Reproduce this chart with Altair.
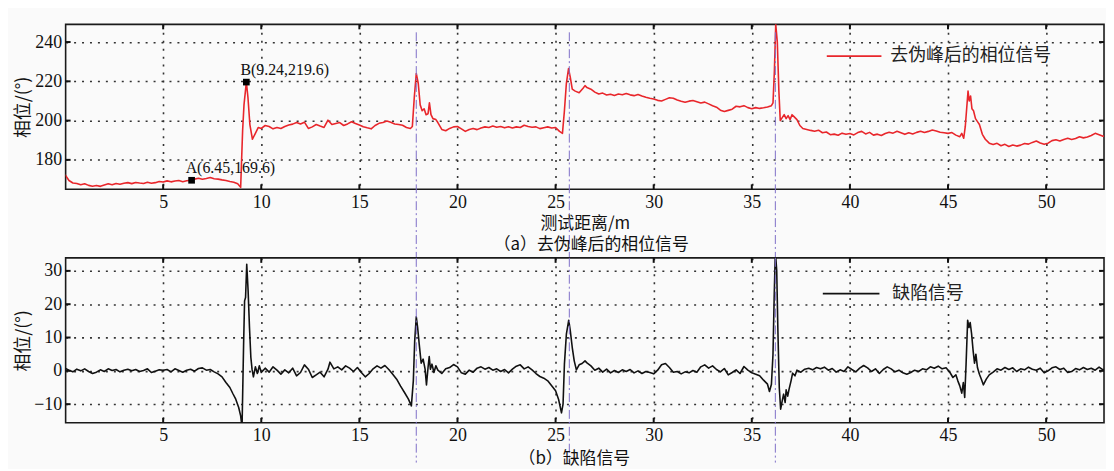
import altair as alt
import pandas as pd

# ---------------- data ----------------
TOP_X = [0.0, 0.2, 0.4, 0.6, 0.8, 1.0, 1.2, 1.4, 1.6, 1.8, 2.0, 2.2, 2.4, 2.6, 2.8, 3.0, 3.2, 3.4, 3.6, 3.8,
         4.0, 4.2, 4.4, 4.6, 4.8, 5.0, 5.2, 5.4, 5.6, 5.8, 6.0, 6.2, 6.45, 6.6, 6.8, 7.0, 7.2, 7.4, 7.6, 7.8,
         8.0, 8.2, 8.4, 8.6, 8.8, 8.95, 9.05, 9.12, 9.24, 9.32, 9.42, 9.55, 9.7, 9.85, 10.0, 10.2, 10.4, 10.6,
         10.8, 11.0, 11.2, 11.4, 11.6, 11.8, 12.0, 12.2, 12.4, 12.6, 12.8, 13.0, 13.2, 13.4, 13.6, 13.8, 14.0,
         14.2, 14.4, 14.6, 14.8, 15.0, 15.2, 15.4, 15.6, 15.8, 16.0, 16.2, 16.4, 16.6, 16.8, 17.0, 17.2, 17.4,
         17.6, 17.7, 17.8, 17.9, 18.0, 18.1, 18.2, 18.3, 18.4, 18.5, 18.57, 18.65, 18.75, 18.9, 19.0, 19.2,
         19.4, 19.6, 19.8, 20.0, 20.2, 20.4, 20.6, 20.8, 21.0, 21.2, 21.4, 21.6, 21.8, 22.0, 22.2, 22.4, 22.6,
         22.8, 23.0, 23.2, 23.4, 23.6, 23.8, 24.0, 24.2, 24.4, 24.6, 24.8, 25.0, 25.2, 25.35, 25.45, 25.55,
         25.66, 25.75, 25.85, 26.0, 26.2, 26.4, 26.5, 26.6, 26.8, 27.0, 27.2, 27.4, 27.6, 27.8, 28.0, 28.2,
         28.4, 28.6, 28.8, 29.0, 29.2, 29.4, 29.6, 29.8, 30.0, 30.2, 30.4, 30.6, 30.8, 31.0, 31.2, 31.4, 31.6,
         31.8, 32.0, 32.2, 32.4, 32.6, 32.8, 33.0, 33.2, 33.4, 33.6, 33.8, 34.0, 34.2, 34.4, 34.6, 34.8, 35.0,
         35.2, 35.4, 35.6, 35.8, 36.0, 36.08, 36.15, 36.22, 36.3, 36.38, 36.45, 36.55, 36.65, 36.75, 36.85,
         36.95, 37.05, 37.15, 37.3, 37.45, 37.6, 37.8, 38.0, 38.2, 38.4, 38.6, 38.8, 39.0, 39.2, 39.4, 39.6,
         39.8, 40.0, 40.2, 40.4, 40.6, 40.8, 41.0, 41.2, 41.4, 41.6, 41.8, 42.0, 42.2, 42.4, 42.6, 42.8, 43.0,
         43.2, 43.4, 43.6, 43.8, 44.0, 44.2, 44.4, 44.6, 44.8, 45.0, 45.2, 45.4, 45.6, 45.7, 45.8, 45.88,
         45.95, 46.02, 46.08, 46.15, 46.22, 46.3, 46.4, 46.5, 46.6, 46.75, 46.9, 47.1, 47.3, 47.5, 47.7, 47.9,
         48.1, 48.3, 48.5, 48.7, 48.9, 49.1, 49.3, 49.5, 49.7, 49.9, 50.1, 50.3, 50.5, 50.7, 50.9, 51.1, 51.3,
         51.5, 51.7, 51.9, 52.1, 52.3, 52.5, 52.7, 52.9, 53.0]
TOP_Y = [172.5, 169.5, 168.2, 168.0, 167.3, 167.8, 167.0, 166.6, 166.9, 166.5, 167.2, 167.8, 167.3, 168.0,
         167.6, 168.1, 168.4, 167.9, 168.5, 168.2, 168.0, 168.6, 168.1, 168.4, 169.0, 168.7, 169.3, 168.8,
         169.2, 169.5, 168.9, 169.4, 169.6, 170.2, 170.6, 170.1, 170.5, 171.0, 170.4, 170.2, 169.8, 169.5,
         169.0, 168.6, 167.8, 166.0, 195.0, 208.0, 219.6, 212.0, 198.0, 190.5, 193.5, 196.5, 196.0, 197.5,
         197.0, 195.8, 196.5, 196.0, 197.0, 197.8, 198.2, 199.0, 198.3, 199.2, 196.0, 196.8, 198.0, 197.2,
         196.5, 200.2, 198.0, 198.5, 199.0, 197.5, 198.3, 199.4, 198.5, 197.8, 196.9, 196.3, 195.8, 197.5,
         198.6, 199.0, 199.8, 199.2, 198.3, 198.0, 197.6, 196.5, 196.0, 197.0, 212.0, 224.0, 219.0, 208.0,
         205.0, 206.0, 203.0, 203.5, 209.0, 203.0, 201.0, 200.5, 199.0, 195.5, 194.8, 196.0, 196.8, 197.0,
         195.8, 194.5, 195.5, 196.0, 195.4, 196.2, 196.8, 196.5, 197.2, 196.6, 197.0, 196.3, 196.9, 196.2,
         196.8, 196.5, 197.6, 197.0, 196.6, 196.8, 195.9, 196.4, 196.8, 196.2, 196.5, 194.5, 193.5, 205.0,
         219.0, 226.5, 222.0, 216.0, 215.0, 214.2, 216.5, 217.8, 216.8, 216.0, 214.5, 213.5, 214.0, 213.0,
         213.4, 212.8, 213.5, 213.2, 213.8, 213.1, 212.7, 213.3, 212.5, 211.9, 211.4, 211.0, 210.3, 210.0,
         210.8, 211.6, 211.4, 210.5, 209.8, 209.3, 209.9, 210.2, 209.6, 209.0, 209.4, 208.5, 207.6, 206.8,
         205.3, 204.6, 205.2, 205.8, 207.3, 207.0, 207.6, 206.6, 206.0, 206.6, 206.2, 206.5, 206.9, 207.6,
         209.0, 225.0, 249.0, 240.0, 215.0, 200.0, 201.5, 203.0, 201.0, 202.5, 200.5, 203.0, 202.0, 200.5,
         197.5, 196.0, 195.5, 195.0, 194.6, 195.1, 193.8, 194.2, 192.8, 193.1, 192.5, 193.6, 193.0, 193.4,
         192.7, 193.9, 194.5, 193.2, 194.0, 192.6, 193.1, 192.4, 193.4, 194.1, 193.6, 194.6, 193.8, 193.0,
         193.8, 193.2, 194.0, 194.6, 193.9, 194.5, 195.2, 194.7, 194.1, 193.8, 193.5, 193.9, 192.6, 191.8,
         193.5, 191.0, 197.0, 206.0, 215.0, 210.0, 212.5, 206.0, 205.0, 201.0, 199.5, 198.0, 193.0, 190.5,
         188.5, 187.8, 188.4, 187.2, 187.9, 186.8, 187.6, 187.0, 187.5, 188.3, 188.0, 188.9, 189.6, 188.6,
         187.9, 188.5, 189.8, 190.2, 189.6, 190.4, 191.0, 190.4, 190.9, 191.8, 191.2, 191.6, 192.4, 193.5,
         192.8, 192.0, 192.3]

BOT_X = [0.0, 0.2, 0.4, 0.6, 0.8, 1.0, 1.2, 1.4, 1.6, 1.8, 2.0, 2.2, 2.4, 2.6, 2.8, 3.0, 3.2, 3.4, 3.6, 3.8,
         4.0, 4.2, 4.4, 4.6, 4.8, 5.0, 5.2, 5.4, 5.6, 5.8, 6.0, 6.2, 6.4, 6.6, 6.8, 7.0, 7.2, 7.4, 7.6, 7.8,
         8.0, 8.2, 8.4, 8.55, 8.7, 8.85, 8.95, 9.02, 9.1, 9.15, 9.2, 9.26, 9.33, 9.4, 9.47, 9.53, 9.6, 9.7,
         9.8, 9.9, 10.0, 10.2, 10.4, 10.6, 10.8, 11.0, 11.2, 11.4, 11.6, 11.8, 12.0, 12.2, 12.4, 12.6, 12.8,
         13.0, 13.2, 13.4, 13.5, 13.7, 13.9, 14.1, 14.3, 14.5, 14.7, 14.9, 15.1, 15.3, 15.5, 15.7, 15.9, 16.1,
         16.3, 16.5, 16.7, 16.9, 17.1, 17.3, 17.5, 17.65, 17.75, 17.82, 17.9, 17.97, 18.05, 18.15, 18.25,
         18.35, 18.42, 18.5, 18.56, 18.62, 18.7, 18.8, 18.9, 19.0, 19.2, 19.4, 19.6, 19.8, 20.0, 20.2, 20.4,
         20.6, 20.8, 21.0, 21.2, 21.4, 21.6, 21.8, 22.0, 22.2, 22.4, 22.6, 22.8, 23.0, 23.2, 23.4, 23.6, 23.8,
         24.0, 24.2, 24.4, 24.6, 24.8, 25.0, 25.15, 25.3, 25.38, 25.45, 25.55, 25.67, 25.75, 25.85, 25.95,
         26.06, 26.2, 26.35, 26.5, 26.6, 26.8, 27.0, 27.2, 27.4, 27.6, 27.8, 28.0, 28.2, 28.4, 28.6, 28.8,
         29.0, 29.2, 29.4, 29.6, 29.8, 30.0, 30.2, 30.4, 30.6, 30.8, 31.0, 31.2, 31.4, 31.6, 31.8, 32.0, 32.2,
         32.4, 32.6, 32.8, 33.0, 33.2, 33.4, 33.6, 33.8, 34.0, 34.2, 34.4, 34.6, 34.8, 35.0, 35.2, 35.4, 35.6,
         35.8, 35.9, 36.0, 36.08, 36.14, 36.2, 36.27, 36.33, 36.4, 36.47, 36.55, 36.62, 36.7, 36.75, 36.83,
         36.9, 37.0, 37.08, 37.2, 37.3, 37.5, 37.7, 37.9, 38.1, 38.3, 38.5, 38.7, 38.9, 39.1, 39.3, 39.5,
         39.7, 39.9, 40.1, 40.3, 40.5, 40.7, 40.9, 41.1, 41.3, 41.5, 41.7, 41.9, 42.1, 42.3, 42.5, 42.7, 42.9,
         43.1, 43.3, 43.5, 43.7, 43.9, 44.1, 44.3, 44.5, 44.7, 44.9, 45.1, 45.25, 45.4, 45.5, 45.6, 45.7,
         45.78, 45.85, 45.92, 46.0, 46.07, 46.13, 46.2, 46.28, 46.35, 46.42, 46.5, 46.6, 46.7, 46.8, 46.95,
         47.1, 47.3, 47.5, 47.7, 47.9, 48.1, 48.3, 48.5, 48.7, 48.9, 49.1, 49.3, 49.5, 49.7, 49.9, 50.1, 50.3,
         50.5, 50.7, 50.9, 51.1, 51.3, 51.5, 51.7, 51.9, 52.1, 52.3, 52.5, 52.7, 52.9, 53.0]
BOT_Y = [0.8, 0.2, -0.3, 0.5, 0.0, 0.6, -0.2, -0.8, -0.4, 0.3, -0.2, 0.6, 0.1, 0.4, -0.3, 0.2, 0.5, 0.0, 0.4,
         -0.2, 0.1, 0.6, -0.5, -0.1, 0.3, 0.2, 0.4, -0.3, 0.6, 0.1, -0.4, 0.2, 0.5, -0.1, 0.7, 0.9, 0.2, 0.4,
         -0.3, -0.9, -1.8, -3.5, -5.0, -6.8, -8.5, -11.0, -13.5, -17.0, 8.0, 21.0, 22.0, 32.0, 24.0, 13.0,
         4.0, 0.5, -1.8, 1.2, -0.8, 1.5, -0.5, 0.8, -0.4, 1.2, 0.2, -1.0, 0.3, -0.6, 0.8, -1.5, -0.5, 1.8,
         0.5, -2.0, -1.2, -0.4, -1.8, 0.5, 2.6, 0.6, 1.2, 0.3, 1.5, 0.8, -0.2, 1.0, -0.5, -1.8, -0.8, 0.6,
         1.5, 0.8, 1.6, 0.4, -1.0, -2.5, -4.6, -6.5, -8.5, -10.5, -3.0, 9.0, 16.2, 13.0, 8.0, 2.3, 3.5, 0.5,
         -4.2, 1.0, 4.3, 0.5, 2.0, -0.5, 1.5, 0.2, -0.8, 0.6, 1.0, 1.9, 1.2, -0.6, -1.0, 0.2, -0.4, 0.8, 1.2,
         0.5, 1.0, 0.2, 0.6, -0.2, 0.4, -0.6, 0.5, 1.4, 1.8, 0.6, 1.2, 0.3, -0.8, -1.7, -2.2, -3.0, -4.5,
         -6.0, -8.5, -12.6, -10.0, 2.0, 11.0, 15.2, 12.0, 7.0, 3.0, 0.3, 1.8, 2.2, 3.0, 2.4, 1.5, 0.2, 0.8,
         -0.4, 0.5, -0.6, 0.1, -0.5, 0.3, -0.2, 0.4, -0.6, 0.0, -0.8, -0.2, -0.5, -0.9, 0.2, 1.8, 2.2, 1.0,
         -0.4, -0.2, -0.9, -0.3, -0.6, 0.1, -0.4, 1.2, 1.8, 0.8, 1.5, 0.4, -0.3, 0.7, -1.2, -0.5, 0.3, -0.8,
         1.3, 0.2, -0.6, -1.0, -1.5, -2.8, -4.0, -6.2, -4.0, 5.0, 22.0, 36.0, 30.0, 12.0, -5.0, -11.5, -9.0,
         -7.0, -9.5, -5.7, -7.6, -5.5, -3.0, -0.7, -1.5, 0.2, -0.4, 0.5, 0.8, 0.3, 1.0, 0.6, 1.1, 0.2, 0.7,
         -0.4, 0.3, -0.2, 1.2, 0.4, -0.3, 0.8, 1.6, 0.9, -0.2, 0.6, -0.8, 0.4, 1.2, 0.6, -0.3, 0.2, -0.6,
         -1.0, -0.5, 0.2, -0.2, 0.6, 0.3, 1.2, 0.8, 1.4, 0.6, 0.9, -0.5, -2.0, -1.2, -3.0, -4.5, -6.7, -3.5,
         -8.0, 2.0, 15.2, 13.0, 14.5, 11.2, 6.0, 2.3, 5.0, 1.0, -1.0, -2.5, -4.2, -2.5, -1.2, -0.4, 0.6, 0.2,
         1.0, 0.4, 0.9, -0.2, 0.6, 0.3, 1.1, 0.5, 0.2, 0.8, -0.6, 0.0, 0.9, 1.2, 0.4, 0.8, -0.5, -0.2, 0.7,
         0.3, 1.0, 0.4, 0.8, 0.2, 1.1, 0.3, 0.5]

X_TICKS = [5, 10, 15, 20, 25, 30, 35, 40, 45, 50]
TOP_Y_TICKS = [180, 200, 220, 240]
BOT_Y_TICKS = [-10, 0, 10, 20, 30]
DEFECT_X = [17.9, 25.7, 36.2]
MARK_X = [6.45, 9.24]
MARK_Y = [169.6, 219.6]
MARK_LABELS = ["A(6.45,169.6)", "B(9.24,219.6)"]

TOP_LEGEND = "去伪峰后的相位信号"
BOT_LEGEND = "缺陷信号"
X_TITLE = "测试距离/m"
Y_TITLE = "相位/(°)"
TOP_CAPTION = "（a）去伪峰后的相位信号"
BOT_CAPTION = "（b）缺陷信号"

# ---------------- styling ----------------
W, H = 1045, 166
SERIF = "Liberation Serif"
CJK = "Noto Sans CJK SC"
RED = "#e8262b"
BLACK = "#111111"
PURPLE = "#7f6fc8"
XDOM = [0.03, 52.95]


def x_axis(title):
    kw = dict(values=X_TICKS, grid=True, ticks=False, domain=False, labelFont=SERIF,
              labelFontSize=18, labelColor="#111", labelPadding=4, gridDash=[2, 6],
              gridColor="#333", gridWidth=1.6)
    if title:
        kw.update(titleFont=CJK, titleFontSize=17, titleFontWeight="normal", titleColor="#111",
                  titlePadding=4)
    return alt.Axis(**kw)


def y_axis(values):
    return alt.Axis(values=values, grid=True, ticks=False, domain=False, labelFont=SERIF,
                    labelFontSize=18, labelColor="#111", labelPadding=4, gridDash=[2, 6],
                    gridColor="#333", gridWidth=1.6, titleFont=CJK, titleFontSize=18,
                    titleFontWeight="normal", titleColor="#111", titleAngle=270,
                    titleBaseline="bottom", titleAlign="center", titleX=-33, titleY=H / 2)


def panel(xs, ys, color, ydom, yticks, legend_text, legend_y, legend_x0, legend_x1, text_x,
          xtitle, caption, caption_x, caption_y, rule_y0, rule_y1, markers=False):
    df = pd.DataFrame({"x": xs, "y": ys})
    xsc = alt.Scale(domain=XDOM, nice=False, zero=False)
    ysc = alt.Scale(domain=ydom, nice=False, zero=False)
    if xtitle:
        xenc = alt.X("x:Q", scale=xsc, axis=x_axis(True), title=xtitle)
    else:
        xenc = alt.X("x:Q", scale=xsc, axis=x_axis(False), title=None)
    line = alt.Chart(df).mark_line(color=color, strokeWidth=1.6, strokeJoin="round",
                                   clip=True).encode(
        x=xenc, y=alt.Y("y:Q", scale=ysc, axis=y_axis(yticks), title=Y_TITLE))

    xt = pd.DataFrame({"x": X_TICKS})
    yt = pd.DataFrame({"y": yticks})
    tick_style = dict(color="#111", strokeWidth=2)
    xb = alt.Chart(xt).mark_rule(**tick_style).encode(
        x=alt.X("x:Q", scale=xsc), y=alt.value(H), y2=alt.value(H - 5))
    xtp = alt.Chart(xt).mark_rule(**tick_style).encode(
        x=alt.X("x:Q", scale=xsc), y=alt.value(0), y2=alt.value(5))
    yl = alt.Chart(yt).mark_rule(**tick_style).encode(
        y=alt.Y("y:Q", scale=ysc), x=alt.value(0), x2=alt.value(5))
    yr = alt.Chart(yt).mark_rule(**tick_style).encode(
        y=alt.Y("y:Q", scale=ysc), x=alt.value(W), x2=alt.value(W - 5))

    rules = alt.Chart(pd.DataFrame({"x": DEFECT_X})).mark_rule(
        color=PURPLE, strokeWidth=1, strokeDash=[9, 3, 2, 3]).encode(
        x=alt.X("x:Q", scale=xsc), y=alt.value(rule_y0), y2=alt.value(rule_y1))

    lg = pd.DataFrame({"t": [legend_text]})
    leg_line = alt.Chart(lg).mark_rule(color=color, strokeWidth=1.8).encode(
        x=alt.value(legend_x0), x2=alt.value(legend_x1), y=alt.value(legend_y))
    leg_text = alt.Chart(lg).mark_text(font=CJK, fontSize=18, align="left", baseline="middle",
                                       color="#222").encode(
        x=alt.value(text_x), y=alt.value(legend_y), text="t:N")

    cap = alt.Chart(pd.DataFrame({"t": [caption]})).mark_text(
        font=CJK, fontSize=17, align="center", baseline="middle", color="#111").encode(
        x=alt.value(caption_x), y=alt.value(caption_y), text="t:N")

    layers = [line, rules, xb, xtp, yl, yr, leg_line, leg_text, cap]
    if markers:
        md = pd.DataFrame({"x": MARK_X, "y": MARK_Y, "t": MARK_LABELS})
        sq = alt.Chart(md).mark_square(size=45, color="#000", opacity=1).encode(
            x=alt.X("x:Q", scale=xsc), y=alt.Y("y:Q", scale=ysc))
        tx = alt.Chart(md).mark_text(font=SERIF, fontSize=16, align="left", baseline="middle",
                                     dx=-6, dy=-12, color="#111").encode(
            x=alt.X("x:Q", scale=xsc), y=alt.Y("y:Q", scale=ysc), text="t:N")
        layers += [sq, tx]
    return alt.layer(*layers).properties(width=W, height=H)


top = panel(TOP_X, TOP_Y, RED, [165, 249], TOP_Y_TICKS, TOP_LEGEND, 32, 766, 821, 830,
            X_TITLE, TOP_CAPTION, 529, 222, 8, 235, markers=True)
bottom = panel(BOT_X, BOT_Y, BLACK, [-15.6, 33.9], BOT_Y_TICKS, BOT_LEGEND, 36, 762, 819, 832,
               None, BOT_CAPTION, 512, 202, 0, 206)

chart = alt.vconcat(top, bottom, spacing=69, bounds="flush").properties(
    padding={"left": 6, "top": 13, "right": 0, "bottom": 0},
    background="#fafafa",
).configure_view(stroke="#1a1a1a", strokeWidth=1.6).resolve_scale(x="independent", y="independent")

chart.save("out.html", embed_options={"renderer": "svg", "actions": False})
